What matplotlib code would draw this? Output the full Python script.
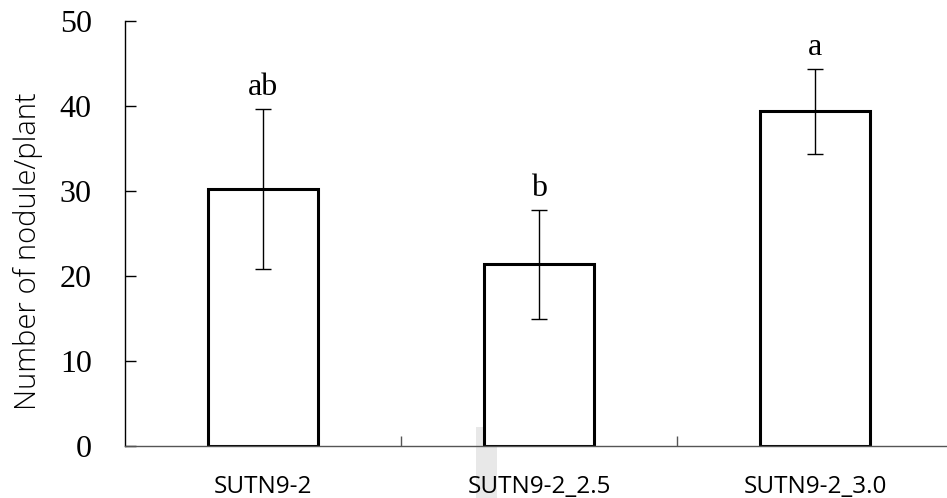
import matplotlib
matplotlib.use("Agg")
import matplotlib.pyplot as plt
from matplotlib.patches import Rectangle

# nodule counts per plant (mean +/- SD) with significance letters
strains = ["SUTN9-2", "SUTN9-2_2.5", "SUTN9-2_3.0"]
means = [30.2, 21.4, 39.4]
errors = [9.4, 6.4, 5.0]
letters = ["ab", "b", "a"]
yticks = [0, 10, 20, 30, 40, 50]

W, H = 947, 498
fig = plt.figure(figsize=(W / 100, H / 100), dpi=100)
fig.patch.set_facecolor("white")

# faint scan artefact near the second bar foot, kept under the axes
fig.patches.append(Rectangle((476 / W, 0), 21 / W, 71 / H, transform=fig.transFigure,
                             facecolor="#e8e8e8", edgecolor="none", zorder=0))

ax = fig.add_axes([125 / W, 52 / H, 828 / W, 425 / H])
ax.set_zorder(2)
ax.patch.set_alpha(0)

x = list(range(len(strains)))
ax.bar(x, means, width=0.4, color="white", edgecolor="black", linewidth=2.2, zorder=2)
ax.errorbar(x, means, yerr=errors, fmt="none", ecolor="black", elinewidth=1.0,
            capsize=6, capthick=1.0, zorder=3)

for xi, m, e, lab in zip(x, means, errors, letters):
    ax.annotate(lab, (xi, m + e), xytext=(0, 5), textcoords="offset points",
                ha="center", va="bottom", fontsize=23, family="Liberation Serif")

ax.set_xlim(-0.5, len(strains) - 0.5)
ax.set_ylim(0, 50)
ax.set_yticks(yticks)
ax.set_yticklabels([str(v) for v in yticks], family="Liberation Serif", fontsize=23)
ax.tick_params(axis="y", direction="in", length=8, width=1, pad=24, colors="black")

ax.set_xticks(x)
ax.set_xticklabels(strains, family="Open Sans", fontsize=17.5)
ax.tick_params(axis="x", which="major", length=0, pad=21)
ax.set_xticks([0.5, 1.5], minor=True)
ax.tick_params(axis="x", which="minor", direction="in", length=7, width=1, color="#555555")

ax.set_ylabel("Number of nodule/plant", family="Open Sans", fontsize=21,
              fontweight="light")
ax.yaxis.set_label_coords(-0.099, 0.459)

for s in ("top", "right"):
    ax.spines[s].set_visible(False)
ax.spines["left"].set_color("black")
ax.spines["left"].set_linewidth(1.0)
ax.spines["bottom"].set_color("#555555")
ax.spines["bottom"].set_linewidth(1.0)

fig.savefig("out.png", dpi=100)
